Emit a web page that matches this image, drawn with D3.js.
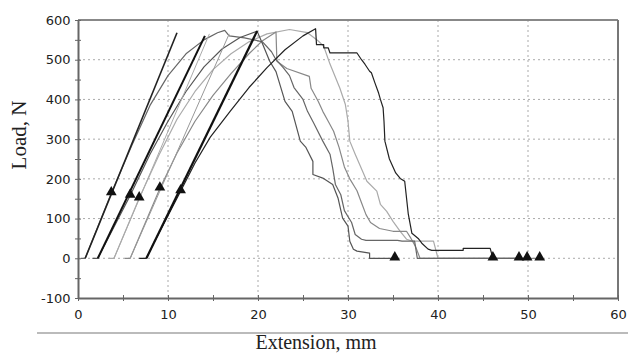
<!DOCTYPE html>
<html>
<head>
<meta charset="utf-8">
<script src="https://cdn.jsdelivr.net/npm/d3@7"></script>
<style>
  body { margin: 0; background: #fff; }
  svg { display: block; }
</style>
</head>
<body>
<div id="chart"></div>
<script>
// tick values
var xTicks = [0, 10, 20, 30, 40, 50, 60];
var yTicks = [-100, 0, 100, 200, 300, 400, 500, 600];

// specimen curves, [extension mm, load N]
var specimenA = [[0.3,0],[0.8,0],[3.7,164],[6,285],[8,385],[10,460],[12,515],[14,550],[15.5,568],[16.3,574],[16.8,560],[18.5,555],[20.5,545],[21.5,520],[22,500],[22.8,480],[23.5,460],[24,430],[25,400],[25.5,370],[26.2,340],[27.2,295],[28,262],[28.3,227],[28.6,186],[29.2,160],[29.6,120],[30.4,90],[30.8,60],[31.5,48],[32,45],[35.5,45],[36,43],[37.4,43],[37.7,0],[49,0]];
var specimenB = [[1.6,0],[2.2,0],[5.8,158],[8,262],[10,345],[12,420],[14,482],[16,527],[18,556],[19.9,572],[20.5,540],[21.3,496],[22,470],[23,395],[23.8,370],[24.7,295],[25.3,280],[26.1,244],[26.1,211],[27.2,202],[28.3,186],[28.9,151],[29.4,101],[30,81],[30.2,43],[30.6,23],[31,18],[32.4,13],[32.4,0],[35.2,0]];
var specimenC = [[3.4,0],[4.0,0],[6.8,151],[9,260],[11,350],[13,420],[15,475],[17,515],[19,545],[21,565],[23.5,576],[25.5,568],[26.7,547],[27.3,534],[28,489],[29.1,428],[29.7,388],[30,345],[30.2,295],[30.8,262],[32.1,194],[33.2,169],[33.6,136],[34.3,118],[35,93],[35.8,68],[36.5,48],[37.2,43],[39.5,43],[40,0],[49.9,0]];
var specimenD = [[5.2,0],[5.8,0],[9.1,176],[11,265],[13,345],[15,410],[17,465],[19,515],[20.5,548],[22,570],[22.1,496],[23.2,478],[25.7,458],[25.9,428],[26.7,395],[27.2,370],[27.8,345],[28.4,320],[29,280],[29.6,230],[30.2,200],[31,170],[31.5,140],[32,110],[32.5,90],[33.5,75],[35,68],[36.5,68],[37,50],[37.5,30],[38,0],[51.3,0]];
var specimenE = [[6.8,0],[7.6,0],[8.5,42],[11.4,169],[13,240],[14.7,305],[16.9,370],[19,430],[21,480],[23,525],[25,560],[26.4,578],[26.5,538],[27.3,538],[27.3,530],[27.8,530],[28,517],[31,517],[31.5,500],[31.9,488],[32.4,471],[32.6,467],[33,441],[33.4,416],[33.6,400],[33.9,379],[34,345],[34.1,295],[34.6,250],[35.3,215],[35.8,201],[36.3,194],[36.7,111],[37.1,63],[37.8,50],[38.2,38],[38.9,23],[39.3,20],[42.8,20],[42.8,25],[45.8,25],[46.1,0]];

var specimens = [specimenC, specimenD, specimenA, specimenB, specimenE];
var specimenColors = ["#aaa", "#888", "#666", "#555", "#222"];

// modulus (slope) lines, [x0, y0, x1, y1]
var modulusLines = [[0.8,0,11,568],[2.2,0,14.1,560],[4.0,0,14.6,565],[5.8,0,16.8,565],[7.6,0,19.9,572]];
var modulusColors = ["#222", "#111", "#aaa", "#999", "#111"];
var modulusWidths = [1.6, 2, 1, 1, 2.2];

// markers
var yieldMarkers = [[3.7,164],[5.8,158],[6.8,151],[9.1,176],[11.4,169]];
var breakMarkers = [[35.2,0],[46.1,0],[49,0],[49.9,0],[51.3,0]];

var W = 628, H = 355;
var svg = d3.select("#chart").append("svg")
    .attr("width", W)
    .attr("height", H);

var x = d3.scaleLinear().domain([0, 60]).range([78, 618]);
var y = d3.scaleLinear().domain([-100, 600]).range([298, 20]);

// grid
svg.append("g")
  .selectAll("line")
  .data(xTicks.slice(1, -1))
  .enter().append("line")
    .attr("x1", d => x(d)).attr("x2", d => x(d))
    .attr("y1", y(600)).attr("y2", y(-100))
    .attr("stroke", "#aaa").attr("stroke-width", 1)
    .attr("stroke-dasharray", "2,3");
svg.append("g")
  .selectAll("line")
  .data(yTicks.slice(1, -1))
  .enter().append("line")
    .attr("x1", x(0)).attr("x2", x(60))
    .attr("y1", d => y(d)).attr("y2", d => y(d))
    .attr("stroke", "#aaa").attr("stroke-width", 1)
    .attr("stroke-dasharray", "2,3");

// frame top / right
svg.append("line")
  .attr("x1", x(0)).attr("x2", x(60)).attr("y1", y(600)).attr("y2", y(600))
  .attr("stroke", "#888").attr("stroke-width", 2);
svg.append("line")
  .attr("x1", x(60)).attr("x2", x(60)).attr("y1", y(600)).attr("y2", y(-100))
  .attr("stroke", "#777").attr("stroke-width", 2);

// axes
var xAxis = d3.axisBottom(x).tickValues(d3.range(0, 61, 5)).tickSize(0)
  .tickFormat(d => xTicks.indexOf(d) >= 0 ? d : "");
var yAxis = d3.axisLeft(y).tickValues(d3.range(-100, 601, 50)).tickSize(0)
  .tickFormat(d => yTicks.indexOf(d) >= 0 ? d : "");

var gx = svg.append("g").attr("transform", "translate(0," + y(-100) + ")").call(xAxis);
var gy = svg.append("g").attr("transform", "translate(" + x(0) + ",0)").call(yAxis);

[gx, gy].forEach(function(g) {
  g.select(".domain").attr("stroke", "#666").attr("stroke-width", 2);
  g.selectAll("text")
    .attr("font-family", "DejaVu Sans, Verdana, sans-serif")
    .attr("font-size", 13)
    .attr("fill", "#222");
});
gx.selectAll("text").attr("dy", "1.4em");
gy.selectAll("text").attr("dx", "-0.35em");

// small ticks crossing the axis lines
gx.selectAll(".tick").append("line").attr("y1", -3).attr("y2", 3).attr("stroke", "#666");
gy.selectAll(".tick").append("line").attr("x1", -3).attr("x2", 3).attr("stroke", "#666");

// curves
var line = d3.line().x(d => x(d[0])).y(d => y(d[1]));
svg.append("g")
  .selectAll("path")
  .data(specimens)
  .enter().append("path")
    .attr("d", line)
    .attr("fill", "none")
    .attr("stroke", (d, i) => specimenColors[i])
    .attr("stroke-width", 1.2)
    .attr("stroke-linejoin", "round");

svg.append("g")
  .selectAll("line")
  .data(modulusLines)
  .enter().append("line")
    .attr("x1", d => x(d[0])).attr("y1", d => y(d[1]))
    .attr("x2", d => x(d[2])).attr("y2", d => y(d[3]))
    .attr("stroke", (d, i) => modulusColors[i])
    .attr("stroke-width", (d, i) => modulusWidths[i]);

// triangles
var tri = d3.symbol().type(d3.symbolTriangle).size(50);
svg.append("g")
  .selectAll("path")
  .data(yieldMarkers.concat(breakMarkers))
  .enter().append("path")
    .attr("d", tri)
    .attr("transform", d => "translate(" + x(d[0]) + "," + (y(d[1]) - 1) + ")")
    .attr("fill", "#111");

// separator line and titles
svg.append("line")
  .attr("x1", 37).attr("x2", W).attr("y1", 333).attr("y2", 333)
  .attr("stroke", "#bbb").attr("stroke-width", 2);

svg.append("text")
  .attr("x", 316).attr("y", 349)
  .attr("text-anchor", "middle")
  .attr("font-family", "Liberation Serif, Times New Roman, serif")
  .attr("font-size", 20)
  .attr("fill", "#222")
  .text("Extension, mm");

svg.append("text")
  .attr("transform", "translate(26,135) rotate(-90)")
  .attr("text-anchor", "middle")
  .attr("font-family", "Liberation Serif, Times New Roman, serif")
  .attr("font-size", 21)
  .attr("fill", "#222")
  .text("Load, N");
</script>
</body>
</html>
